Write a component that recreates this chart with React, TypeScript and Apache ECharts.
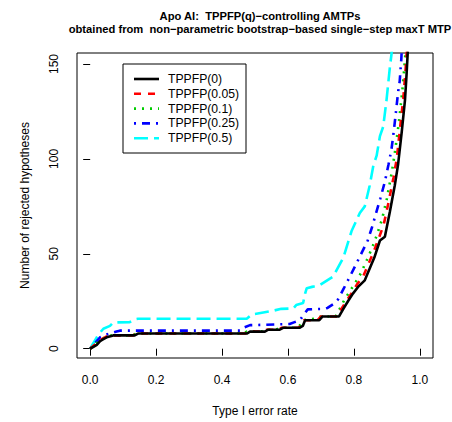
import React, { useEffect, useRef } from "react";
import * as echarts from "echarts";

const titleLines = [
  "Apo AI:  TPPFP(q)\u2212controlling AMTPs",
  "obtained from  non\u2212parametric bootstrap\u2212based single\u2212step maxT MTP",
];
const xTitle = "Type I error rate";
const yTitle = "Number of rejected hypotheses";
const xTicks = [0, 0.2, 0.4, 0.6, 0.8, 1.0];
const yTicks = [0, 50, 100, 150];

const seriesNames = ["TPPFP(0)", "TPPFP(0.05)", "TPPFP(0.1)", "TPPFP(0.25)", "TPPFP(0.5)"];

const tppfp0: [number, number][] = [
  [0, 0], [0.01, 1], [0.02, 2], [0.03, 4], [0.04, 5], [0.05, 6], [0.07, 7], [0.135, 7], [0.145, 8],
  [0.475, 8], [0.485, 9], [0.53, 9], [0.54, 10], [0.575, 10], [0.585, 11], [0.635, 11], [0.645, 12],
  [0.652, 15], [0.695, 15], [0.705, 17], [0.755, 17], [0.768, 21], [0.782, 25], [0.797, 29],
  [0.815, 33], [0.833, 36], [0.84, 39], [0.862, 48], [0.879, 57], [0.894, 59], [0.909, 72],
  [0.924, 86], [0.934, 97], [0.945, 114], [0.955, 131], [0.96, 145], [0.963, 155], [0.966, 165],
];
const tppfp005: [number, number][] = [
  [0, 0], [0.01, 1.5], [0.02, 3], [0.03, 4.5], [0.04, 5.5], [0.05, 6.5], [0.065, 7], [0.13, 7], [0.14, 8],
  [0.47, 8], [0.48, 9], [0.525, 9], [0.535, 10], [0.57, 10], [0.58, 11], [0.63, 11], [0.64, 12],
  [0.648, 15], [0.69, 15], [0.7, 17], [0.75, 17], [0.762, 21], [0.777, 25], [0.792, 29], [0.81, 34],
  [0.828, 38], [0.845, 45], [0.86, 51], [0.875, 58], [0.89, 65], [0.905, 77], [0.92, 90], [0.93, 100],
  [0.94, 116], [0.95, 132], [0.956, 145], [0.96, 155], [0.964, 165],
];
const tppfp01: [number, number][] = [
  [0, 0], [0.01, 1.5], [0.02, 3], [0.03, 4.5], [0.04, 5.5], [0.05, 6.5], [0.065, 7], [0.13, 7], [0.14, 8],
  [0.465, 8], [0.475, 9], [0.52, 9], [0.53, 10], [0.565, 10], [0.575, 11], [0.625, 11], [0.635, 12],
  [0.645, 15], [0.69, 16], [0.7, 17], [0.745, 17], [0.757, 21], [0.772, 26], [0.787, 30], [0.805, 35],
  [0.822, 40], [0.84, 47], [0.855, 53], [0.87, 60], [0.885, 68], [0.9, 79], [0.915, 93], [0.925, 104],
  [0.937, 120], [0.947, 136], [0.953, 148], [0.957, 157], [0.961, 167],
];
const tppfp025: [number, number][] = [
  [0, 0], [0.01, 2], [0.02, 4], [0.03, 6], [0.05, 7.5], [0.08, 9], [0.09, 9.5], [0.455, 9.5],
  [0.465, 11], [0.485, 12.4], [0.605, 13], [0.62, 14], [0.636, 15], [0.648, 18], [0.66, 20.7],
  [0.71, 21], [0.72, 21.5], [0.737, 23.4], [0.752, 26], [0.767, 31], [0.785, 37], [0.808, 45],
  [0.825, 51], [0.842, 57], [0.855, 64], [0.869, 72.5], [0.88, 79], [0.894, 88], [0.905, 97],
  [0.914, 105], [0.922, 116], [0.929, 127], [0.934, 135], [0.939, 141], [0.944, 153], [0.947, 165],
];
const tppfp05: [number, number][] = [
  [0, 0], [0.01, 3], [0.02, 6], [0.03, 8.5], [0.04, 10.5], [0.06, 12], [0.07, 13.8], [0.12, 14],
  [0.135, 15.5], [0.145, 15.8], [0.475, 15.8], [0.49, 18], [0.55, 19.8], [0.58, 21], [0.616, 21.2],
  [0.625, 23], [0.646, 24.1], [0.652, 29], [0.657, 31.9], [0.676, 32.7], [0.697, 33.6], [0.737, 38],
  [0.768, 48], [0.793, 62], [0.818, 71.5], [0.833, 75], [0.848, 86], [0.859, 96.5], [0.869, 101.7],
  [0.879, 112], [0.889, 117], [0.899, 131], [0.909, 148], [0.914, 155], [0.918, 165],
];

const seriesData = [tppfp0, tppfp005, tppfp01, tppfp025, tppfp05];
const colors = ["#000000", "#FF0000", "#00CD00", "#0000FF", "#00FFFF"];
const dashes: (number[] | "solid")[] = ["solid", [7, 7], [2, 6], [2, 6, 8, 6], [14, 6]];

const FONT = "Liberation Sans";

export default function App() {
  const ref = useRef<HTMLDivElement>(null);
  useEffect(() => {
    if (!ref.current) return;
    const chart = echarts.init(ref.current, null, { renderer: "svg" });

    const gridLeft = 77, gridTop = 53, gridRight = 19, gridBottom = 59;
    const legX = 123, legY = 64, legW = 123, legH = 89, rowH = 14.8;
    const legendGraphics: any[] = [
      {
        type: "rect",
        shape: { x: legX, y: legY, width: legW, height: legH },
        style: { fill: "#fff", stroke: "#000", lineWidth: 1 },
        z: 100,
      },
    ];
    seriesNames.forEach((name, i) => {
      const cy = legY + 15 + i * rowH;
      legendGraphics.push({
        type: "line",
        shape: { x1: legX + 11, y1: cy, x2: legX + 36, y2: cy },
        style: {
          stroke: colors[i],
          lineWidth: 2.6,
          lineDash: dashes[i] === "solid" ? null : dashes[i],
        },
        z: 101,
      });
      legendGraphics.push({
        type: "text",
        x: legX + 45,
        y: cy,
        style: {
          text: name,
          fill: "#000",
          font: `12.2px ${FONT}`,
          verticalAlign: "middle",
          align: "left",
        },
        z: 101,
      });
    });

    chart.setOption({
      animation: false,
      backgroundColor: "#fff",
      title: {
        text: titleLines.join("\n"),
        left: 255,
        top: 4,
        textAlign: "center",
        textStyle: {
          fontFamily: FONT,
          fontSize: 11.2,
          fontWeight: "bold",
          color: "#000",
          lineHeight: 13,
        },
      },
      grid: {
        left: gridLeft,
        top: gridTop,
        right: gridRight,
        bottom: gridBottom,
        show: true,
        borderColor: "#000",
        borderWidth: 1,
        backgroundColor: "transparent",
      },
      xAxis: {
        type: "value",
        min: -0.04,
        max: 1.04,
        axisLine: { show: false },
        splitLine: { show: false },
        axisTick: {
          show: true,
          length: 7,
          lineStyle: { color: "#000" },
          customValues: xTicks,
        },
        axisLabel: {
          customValues: xTicks,
          formatter: (v: number) => v.toFixed(1),
          color: "#000",
          fontFamily: FONT,
          fontSize: 12,
          margin: 16,
        },
        name: xTitle,
        nameLocation: "middle",
        nameGap: 47,
        nameTextStyle: { color: "#000", fontFamily: FONT, fontSize: 12 },
      },
      yAxis: {
        type: "value",
        min: -4.9,
        max: 155.8,
        axisLine: { show: false },
        splitLine: { show: false },
        axisTick: {
          show: true,
          length: 7,
          lineStyle: { color: "#000" },
          customValues: yTicks,
        },
        axisLabel: {
          customValues: yTicks,
          rotate: 90,
          color: "#000",
          fontFamily: FONT,
          fontSize: 12,
          margin: 17,
        },
        name: yTitle,
        nameLocation: "middle",
        nameGap: 46,
        nameRotate: 90,
        nameTextStyle: { color: "#000", fontFamily: FONT, fontSize: 12 },
      },
      series: seriesData.map((d, i) => ({
        name: seriesNames[i],
        type: "line",
        data: d,
        symbol: "none",
        clip: true,
        lineStyle: {
          color: colors[i],
          width: 2.6,
          type: dashes[i],
        },
        z: 10 - i,
      })),
      graphic: legendGraphics,
    });
    return () => chart.dispose();
  }, []);
  return (
    <div
      ref={ref}
      style={{ position: "fixed", left: 0, top: 0, width: 452, height: 422 }}
    />
  );
}
